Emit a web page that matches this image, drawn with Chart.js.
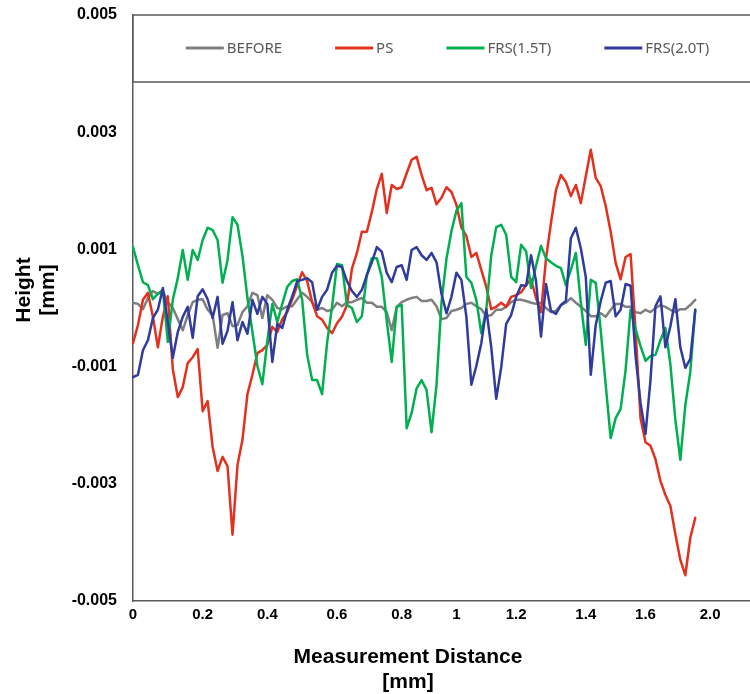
<!DOCTYPE html>
<html>
<head>
<meta charset="utf-8">
<script src="https://cdn.jsdelivr.net/npm/chart.js@4.4.1/dist/chart.umd.min.js"></script>
<style>
  html, body { margin: 0; padding: 0; background: #fff; overflow: hidden; }
  canvas { display: block; }
</style>
</head>
<body>
<canvas id="c" width="750" height="694"></canvas>
<script>
// ---- data (Height in mm) ----
const seriesNames = ['BEFORE', 'PS', 'FRS(1.5T)', 'FRS(2.0T)'];
const seriesColors = ['#7f7f7f', '#e3311f', '#00b050', '#2f3b9d'];

const before = [
  0.00009,0.00007,-0.00002,0.00017,0.00029,0.00024,0.00029,0.0001,0,-0.00019,
  -0.00038,-0.00012,0.0001,0.00014,0.00015,-0.00003,-0.00012,-0.00068,-0.00012,-0.00009,
  -0.00031,-0.00029,-0.00007,0.00003,0.00026,0.00022,-0.00017,0.00022,0.00014,0,
  -0.00002,0.00003,0.00003,0.00015,0.00026,0.00019,0.0001,-0.00003,0,-0.00005,
  -0.00003,0.00009,0.00003,0.0001,0.0001,0.00014,0.00017,0.00009,0.00009,0.00002,
  0.00002,-0.00007,-0.00038,0.00002,0.0001,0.00014,0.00017,0.00019,0.00012,0.00012,
  0.00014,0.00003,-0.00019,-0.00017,-0.00005,-0.00003,0,0.00007,0.00009,0.00003,
  -0.00002,-0.00014,-0.00012,-0.00003,-0.00003,0.00002,0.0001,0.00014,0.00014,0.00012,
  0.00009,0.00007,0.00009,0,-0.00007,-0.00005,0.00005,0.00009,0.00017,0.00009,
  0.00002,-0.00005,-0.00014,-0.00014,-0.00009,-0.00015,-0.00003,0.00007,0.00007,0.00002,
  0.00002,-0.00007,-0.00009,-0.00003,-0.00007,0,0.00005,0.00002,-0.00003,-0.00007,
  -0.00002,-0.00002,0.00005,0.00014
];
const ps = [
  -0.0006,-0.00029,0.00014,0.00026,-0.00015,-0.00067,-0.00015,0.0002,-0.00104,-0.00152,
  -0.00135,-0.00094,-0.00084,-0.0007,-0.00176,-0.00159,-0.00237,-0.00278,-0.00254,-0.0027,
  -0.00387,-0.00268,-0.00225,-0.00147,-0.00114,-0.00077,-0.00072,-0.00063,-0.00032,-0.00041,
  -0.00019,-0.00007,0.00015,0.00038,0.00061,0.00046,0.0001,-0.00014,-0.0002,-0.00034,
  -0.00043,-0.00026,-0.00015,0.00005,0.00067,0.00094,0.0013,0.0013,0.00164,0.00203,
  0.00229,0.00162,0.0021,0.00203,0.00206,0.0023,0.00253,0.00258,0.00227,0.00201,
  0.00205,0.00177,0.00188,0.00206,0.00198,0.00176,0.00137,0.00123,0.00087,0.00094,
  0.00065,0.00036,-0.00002,0.00002,0.00009,0.00002,0.00019,0.00022,0.00027,0.00039,
  0.00049,0.00017,-0.00007,0.00084,0.00145,0.00201,0.00227,0.00215,0.00191,0.0021,
  0.00179,0.00225,0.0027,0.00222,0.00208,0.00174,0.0013,0.00077,0.00049,0.00087,
  0.00092,-0.00038,-0.00188,-0.00229,-0.00235,-0.00258,-0.00295,-0.00319,-0.00338,-0.00386,
  -0.0043,-0.00456,-0.00392,-0.00358
];
const frs15 = [
  0.00104,0.00073,0.00044,0.00039,0.00015,0.00024,0.00031,-0.00058,0.00014,0.00051,
  0.00099,0.00048,0.00099,0.00082,0.00116,0.00137,0.00133,0.00116,0.00043,0.00082,
  0.00155,0.00142,0.00089,0.00017,-0.00041,-0.00099,-0.0013,-0.00056,0.00007,-0.00024,
  0.00007,0.00036,0.00046,0.00049,0.00014,-0.0008,-0.00123,-0.00123,-0.00147,-0.0006,
  0.00002,0.00075,0.00073,0.00005,0,-0.00024,-0.00014,0.00056,0.00085,0.00085,
  0.00053,-0.00022,-0.00092,0.00002,0.00005,-0.00205,-0.00179,-0.00137,-0.00123,-0.0014,
  -0.00212,-0.00131,0.0001,0.00084,0.00131,0.00166,0.00179,0.00053,0.00043,0.00014,
  -0.00043,-0.00003,0.0009,0.00138,0.00142,0.00125,0.00053,0.00044,0.00108,0.00097,
  0.00034,0.00072,0.00106,0.00085,0.00078,0.00072,0.00068,0.00039,0.00065,0.00094,
  0.00009,-0.00063,0.00048,0.00043,-0.00038,-0.00131,-0.00222,-0.00188,-0.00172,-0.00106,
  -0.00003,-0.00036,-0.00065,-0.0009,-0.00082,-0.0008,-0.00055,-0.00034,-0.00096,-0.00191,
  -0.00259,-0.00166,-0.00109,-0.00003
];
const frs20 = [
  -0.00118,-0.00114,-0.00072,-0.00055,-0.00017,-0.00003,0.00034,-0.00024,-0.00085,-0.00041,
  -0.00015,0.00002,-0.00051,0.0002,0.00032,0.00015,-0.00017,0.00019,-0.00061,-0.00039,
  0.0001,-0.00055,-0.00024,-0.00044,0.00014,-0.0001,0.00019,0.00007,-0.00092,-0.00027,
  -0.00034,-0.00003,0.0002,0.00046,0.00048,0.00051,0.00044,-0.00003,0.00019,0.00031,
  0.0006,0.00072,0.0007,0.00046,0.00029,0.00019,0.00031,0.00056,0.00078,0.00104,
  0.00096,0.0006,0.00044,0.0007,0.00073,0.00048,0.00099,0.00104,0.0009,0.00082,
  0.00094,0.00078,0.00024,-0.00009,0.00019,0.0006,0.00048,-0.00015,-0.00131,-0.00099,
  -0.0006,-0.00002,-0.00067,-0.00155,-0.00101,-0.00027,-0.00012,0.00019,0.00039,0.00038,
  0.0009,0.00046,-0.00049,0.00041,-0.00005,-0.0001,0.00005,0.00012,0.00119,0.00137,
  0.00102,0.00053,-0.00114,-0.00029,0.00012,0.00043,0.00046,-0.00014,-0.00003,0.00041,
  0.00038,-0.00082,-0.00162,-0.00215,-0.00123,0.00003,0.0002,-0.00067,-0.00031,0.00015,
  -0.00067,-0.00102,-0.00087,-0.00003
];

// category axis: labels shown at a few categories (as in the original sheet)
const xTickLabels = ['0', '0.2', '0.4', '0.6', '0.8', '1', '1.2', '1.4', '1.6', '2.0'];
const xTickCategory = [0, 14, 27, 41, 54, 65, 77, 91, 103, 116];
const categoryCount = 125;
const categories = Array.from({ length: categoryCount }, (_, i) => {
  const k = xTickCategory.indexOf(i);
  return k >= 0 ? xTickLabels[k] : '';
});

// y ticks
const yMin = -0.005, yMax = 0.005, yStep = 0.002;

// titles
const xTitle = ['Measurement Distance', '[mm]'];
const yTitle = ['Height', '[mm]'];

const boldFont = '"Liberation Sans", Arial, sans-serif';

const framePlugin = {
  id: 'frame',
  afterDraw(chart) {
    const { ctx, chartArea: a } = chart;
    ctx.save();
    // plot top line + legend box
    const boxH = 67;
    ctx.fillStyle = '#ffffff';
    ctx.fillRect(a.left, a.top, a.right - a.left, boxH);
    ctx.strokeStyle = '#595959';
    ctx.lineWidth = 1.5;
    ctx.strokeRect(a.left, a.top, a.right - a.left + 4, boxH);

    // legend entries
    const lineLen = 38, textGap = 3, itemGap = 53;
    ctx.font = '15px "Noto Sans", "Open Sans", sans-serif';
    const ds = chart.data.datasets;
    const widths = ds.map(d => lineLen + textGap + ctx.measureText(d.label).width);
    const total = widths.reduce((s, w) => s + w, 0) + itemGap * (ds.length - 1);
    let x = (a.left + a.right) / 2 + 6 - total / 2;
    const y = a.top + 33;
    ds.forEach((d, i) => {
      ctx.strokeStyle = d.borderColor;
      ctx.lineWidth = 3;
      ctx.beginPath();
      ctx.moveTo(x, y);
      ctx.lineTo(x + lineLen, y);
      ctx.stroke();
      ctx.fillStyle = '#595959';
      ctx.textAlign = 'left';
      ctx.textBaseline = 'middle';
      ctx.fillText(d.label, x + lineLen + textGap, y + 1);
      x += widths[i] + itemGap;
    });

    // axis titles
    ctx.fillStyle = '#000';
    ctx.font = 'bold 21px ' + boldFont;
    ctx.textAlign = 'center';
    ctx.textBaseline = 'middle';
    ctx.fillText(xTitle[0], 408, 657);
    ctx.fillText(xTitle[1], 408, 682);
    const yc = 290;
    [24, 48].forEach((cx, i) => {
      ctx.save();
      ctx.translate(cx, yc);
      ctx.rotate(-Math.PI / 2);
      ctx.fillText(yTitle[i], 0, 0);
      ctx.restore();
    });
    ctx.restore();
  }
};

const dataSets = [before, ps, frs15, frs20];

new Chart(document.getElementById('c'), {
  type: 'line',
  data: {
    labels: categories,
    datasets: dataSets.map((d, i) => ({
      label: seriesNames[i],
      data: d,
      borderColor: seriesColors[i],
      backgroundColor: seriesColors[i],
      order: dataSets.length - i
    }))
  },
  options: {
    responsive: false,
    animation: false,
    devicePixelRatio: 1,
    layout: { padding: { top: 15, left: 0, right: 0, bottom: 0 } },
    elements: {
      point: { radius: 0, hoverRadius: 0 },
      line: { borderWidth: 2.5, tension: 0, borderJoinStyle: 'round', borderCapStyle: 'round' }
    },
    plugins: { legend: { display: false }, tooltip: { enabled: false } },
    scales: {
      x: {
        type: 'category',
        offset: false,
        grid: { display: true, color: 'rgba(0,0,0,0)', drawTicks: false },
        border: { display: true, color: '#595959', width: 1.5 },
        ticks: {
          autoSkip: false, maxRotation: 0, minRotation: 0, padding: 5,
          color: '#000', font: { family: boldFont, size: 15, weight: 'bold' }
        },
        afterFit(s) { s.height = 93; s.paddingLeft = 0; s.paddingRight = 0; }
      },
      y: {
        type: 'linear',
        min: yMin, max: yMax,
        grid: { display: true, color: 'rgba(0,0,0,0)', drawTicks: false },
        border: { display: true, color: '#595959', width: 1.5 },
        ticks: {
          stepSize: yStep, padding: 16,
          callback: v => v.toFixed(3),
          color: '#000', font: { family: boldFont, size: 16, weight: 'bold' }
        },
        afterFit(s) { s.width = 133; s.paddingTop = 0; s.paddingBottom = 0; }
      }
    }
  },
  plugins: [framePlugin]
});
</script>
</body>
</html>
